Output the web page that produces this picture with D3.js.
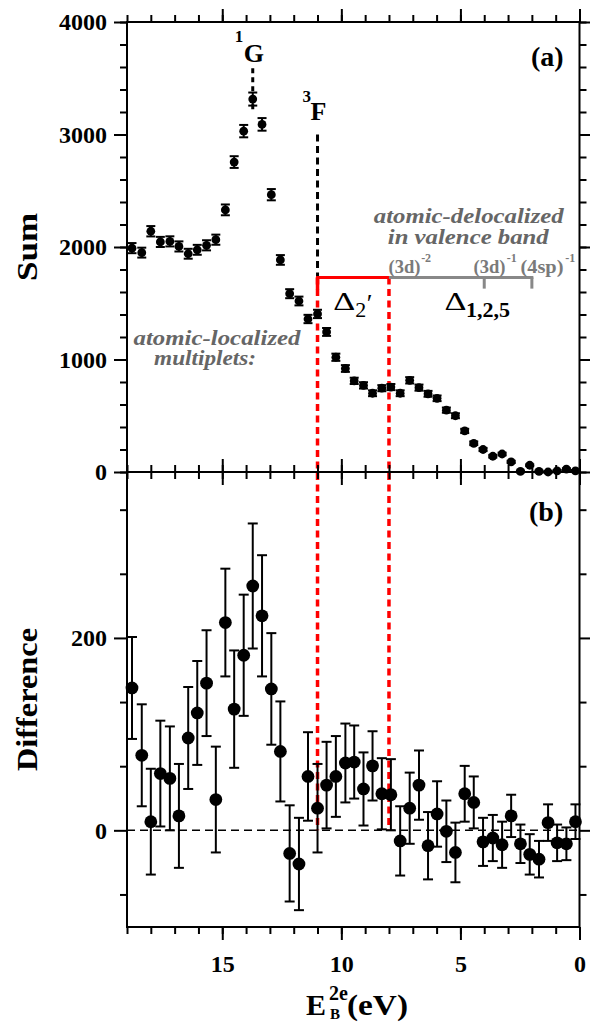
<!DOCTYPE html>
<html>
<head>
<meta charset="utf-8">
<script src="https://cdn.jsdelivr.net/npm/d3@7/dist/d3.min.js"></script>
<style>
  html, body { margin: 0; padding: 0; background: #fff; }
  svg { display: block; }
</style>
</head>
<body>
<svg id="chart" width="590" height="1025"></svg>
<script>
// ---------------- data ----------------
const energy = [18.79, 18.38, 18.0, 17.6, 17.2, 16.82, 16.43, 16.05, 15.66, 15.27, 14.87, 14.5, 14.1, 13.72, 13.33, 12.94, 12.56, 12.17, 11.78, 11.4, 11.0, 10.62, 10.23, 9.83, 9.46, 9.07, 8.69, 8.3, 7.92, 7.53, 7.13, 6.74, 6.36, 5.98, 5.59, 5.21, 4.82, 4.44, 4.05, 3.64, 3.25, 2.87, 2.48, 2.09, 1.7, 1.32, 0.94, 0.55, 0.17];
const sumValues = [1990, 1950, 2140, 2045, 2050, 2005, 1940, 1975, 2015, 2065, 2330, 2755, 3030, 3315, 3090, 2465, 1885, 1585, 1520, 1360, 1405, 1245, 1020, 920, 810, 770, 700, 745, 755, 700, 815, 750, 695, 655, 550, 500, 365, 255, 200, 140, 160, 90, 5, 60, 5, 0, 10, 25, 10];
const sumErrors = [45, 44, 46, 45, 45, 45, 44, 44, 45, 45, 48, 52, 55, 58, 56, 50, 43, 40, 39, 37, 37, 35, 32, 30, 28, 28, 26, 27, 27, 26, 28, 27, 26, 25, 23, 22, 19, 16, 14, 12, 12, 10, 8, 8, 8, 8, 8, 8, 8];
const diffValues = [148, 78, 9, 59, 54, 15, 96, 122, 153, 32, 216, 126, 182, 254, 223, 147, 82, -24, -35, 56, 23, 47, 56, 70, 71, 43, 67, 38, 37, -11, 23, 47, -16, 17, -1, -23, 38, 29, -12, -8, -15, 15, -14, -25, -30, 8, -13, -14, 9];
const diffErrors = [53, 53, 55, 55, 54, 54, 53, 54, 55, 55, 56, 61, 63, 65, 63, 58, 52, 50, 48, 46, 46, 45, 42, 41, 38, 38, 36, 37, 37, 36, 37, 36, 35, 34, 32, 31, 29, 27, 25, 24, 24, 22, 20, 21, 19, 19, 19, 17, 18];

const xMajorTicks = [0, 5, 10, 15];
const xMinorTicks = d3.range(0, 20, 1);
const sumTicks = [0, 1000, 2000, 3000, 4000];
const sumMinorTicks = d3.range(0, 4001, 200);
const diffTicks = [0, 200];
const diffMinorTicks = [-66.667, 66.667, 133.333, 266.667, 333.333];

// Marker levels for annotations
const peak1G = 13.72, peak3F = 11.0, edgeVB = 8.0;
const bracketSum = 1730, bracketTickEnds = [4, 2];

// ---------------- layout ----------------
const svg = d3.select("#chart");
const L = 127, R = 579.5, T = 22, M = 472, B = 927;
const x = d3.scaleLinear().domain([19, 0]).range([L, R]);
const yS = d3.scaleLinear().domain([0, 4000]).range([M, T]);
const yD = d3.scaleLinear().domain([-100.5, 372.5]).range([B, M]);

const FONT = '"Liberation Serif", "Times New Roman", Times, serif';

function styleAxis(g) {
  g.select(".domain").remove();
  g.selectAll(".tick line").attr("stroke", "#000").attr("stroke-width", 2);
  g.selectAll("text").attr("font-family", FONT).attr("font-weight", "bold")
    .attr("font-size", 24).attr("fill", "#000");
}

function panelAxes(y, yTop, yBottom, majors, minors, showXLabels) {
  const g = svg.append("g");
  g.append("g").attr("transform", `translate(${L},0)`)
    .call(d3.axisLeft(y).tickValues(minors).tickSize(7).tickSizeOuter(0).tickFormat("")).call(styleAxis);
  g.append("g").attr("transform", `translate(${L},0)`)
    .call(d3.axisLeft(y).tickValues(majors).tickSize(13).tickSizeOuter(0).tickPadding(7).tickFormat(d3.format("d"))).call(styleAxis);
  g.append("g").attr("transform", `translate(${R},0)`)
    .call(d3.axisRight(y).tickValues(minors).tickSize(7).tickSizeOuter(0).tickFormat("")).call(styleAxis);
  g.append("g").attr("transform", `translate(${R},0)`)
    .call(d3.axisRight(y).tickValues(majors).tickSize(13).tickSizeOuter(0).tickFormat("")).call(styleAxis);
  g.append("g").attr("transform", `translate(0,${yTop})`)
    .call(d3.axisTop(x).tickValues(xMinorTicks).tickSize(7).tickSizeOuter(0).tickFormat("")).call(styleAxis);
  g.append("g").attr("transform", `translate(0,${yTop})`)
    .call(d3.axisTop(x).tickValues(xMajorTicks).tickSize(13).tickSizeOuter(0).tickFormat("")).call(styleAxis);
  g.append("g").attr("transform", `translate(0,${yBottom})`)
    .call(d3.axisBottom(x).tickValues(xMinorTicks).tickSize(7).tickSizeOuter(0).tickFormat("")).call(styleAxis);
  const bx = g.append("g").attr("transform", `translate(0,${yBottom})`)
    .call(d3.axisBottom(x).tickValues(xMajorTicks).tickSize(13).tickSizeOuter(0)
      .tickFormat(showXLabels ? d3.format("d") : "")).call(styleAxis);
  bx.selectAll("text").attr("y", 45).attr("dy", 0);
  g.append("rect").attr("x", L).attr("y", yTop).attr("width", R - L).attr("height", yBottom - yTop)
    .attr("fill", "none").attr("stroke", "#000").attr("stroke-width", 2);
}

const sumData = energy.map((e, i) => ({ e, v: sumValues[i], err: sumErrors[i] }));
const diffData = energy.map((e, i) => ({ e, v: diffValues[i], err: diffErrors[i] }));

function drawErrorDots(data, y, r, cap) {
  const g = svg.append("g");
  const eb = g.selectAll("g.eb").data(data).join("g");
  eb.append("line").attr("x1", d => x(d.e)).attr("x2", d => x(d.e))
    .attr("y1", d => y(d.v - d.err)).attr("y2", d => y(d.v + d.err))
    .attr("stroke", "#000").attr("stroke-width", 2);
  eb.append("line").attr("x1", d => x(d.e) - cap).attr("x2", d => x(d.e) + cap)
    .attr("y1", d => y(d.v + d.err)).attr("y2", d => y(d.v + d.err))
    .attr("stroke", "#000").attr("stroke-width", 2);
  eb.append("line").attr("x1", d => x(d.e) - cap).attr("x2", d => x(d.e) + cap)
    .attr("y1", d => y(d.v - d.err)).attr("y2", d => y(d.v - d.err))
    .attr("stroke", "#000").attr("stroke-width", 2);
  g.selectAll("circle").data(data).join("circle")
    .attr("cx", d => x(d.e)).attr("cy", d => y(d.v)).attr("r", r).attr("fill", "#000");
}

// zero dashed line (b)
svg.append("line").attr("x1", x(19)).attr("x2", x(0)).attr("y1", yD(0)).attr("y2", yD(0))
  .attr("stroke", "#000").attr("stroke-width", 1.5).attr("stroke-dasharray", "8,5");

// 1G and 3F markers
svg.append("line").attr("x1", x(peak1G)).attr("x2", x(peak1G)).attr("y1", yS(3590)).attr("y2", yS(3210))
  .attr("stroke", "#000").attr("stroke-width", 3).attr("stroke-dasharray", "5,4");
svg.append("line").attr("x1", x(peak3F)).attr("x2", x(peak3F)).attr("y1", yS(3000)).attr("y2", yS(bracketSum))
  .attr("stroke", "#000").attr("stroke-width", 3).attr("stroke-dasharray", "7,4.5");

// red dashed verticals across panels
[peak3F, edgeVB].forEach(e => {
  svg.append("line").attr("x1", x(e)).attr("x2", x(e)).attr("y1", yS(bracketSum)).attr("y2", yD(0))
    .attr("stroke", "#ff0000").attr("stroke-width", 3.5).attr("stroke-dasharray", "7,4.5");
});
svg.append("line").attr("x1", x(peak3F) - 1.5).attr("x2", x(edgeVB)).attr("y1", yS(bracketSum)).attr("y2", yS(bracketSum))
  .attr("stroke", "#ff0000").attr("stroke-width", 3);
svg.append("line").attr("x1", x(peak3F)).attr("x2", x(peak3F)).attr("y1", yS(bracketSum)).attr("y2", yS(bracketSum) + 12)
  .attr("stroke", "#ff0000").attr("stroke-width", 3.5);
svg.append("line").attr("x1", x(edgeVB)).attr("x2", x(2) + 1.5).attr("y1", yS(bracketSum)).attr("y2", yS(bracketSum))
  .attr("stroke", "#888").attr("stroke-width", 3);
bracketTickEnds.forEach(e => {
  svg.append("line").attr("x1", x(e)).attr("x2", x(e)).attr("y1", yS(bracketSum)).attr("y2", yS(1630))
    .attr("stroke", "#888").attr("stroke-width", 3);
});

drawErrorDots(sumData, yS, 4.4, 4.5);
drawErrorDots(diffData, yD, 6.4, 5);

panelAxes(yS, T, M, sumTicks, sumMinorTicks, false);
panelAxes(yD, M, B, diffTicks, diffMinorTicks, true);

// ---------------- text ----------------
function txt(xp, yp, s, opts = {}) {
  const t = svg.append("text").attr("x", xp).attr("y", yp).text(s)
    .attr("font-family", FONT)
    .attr("font-size", opts.size || 24)
    .attr("font-weight", opts.weight || "bold")
    .attr("font-style", opts.style || "normal")
    .attr("fill", opts.fill || "#000")
    .attr("text-anchor", opts.anchor || "start");
  if (opts.len) t.attr("textLength", opts.len).attr("lengthAdjust", "spacingAndGlyphs");
  return t;
}

// Axis titles
txt(0, 0, "Sum", { size: 30, anchor: "middle", len: 68 }).attr("transform", `translate(37,${(T + M) / 2}) rotate(-90)`);
txt(0, 0, "Difference", { size: 30, anchor: "middle", len: 143 }).attr("transform", `translate(37,${(M + B) / 2}) rotate(-90)`);

// x title
txt(306, 1015, "E", { size: 30 });
txt(329, 1000, "2e", { size: 20 });
txt(330, 1019, "B", { size: 15 });
txt(347, 1015, "(eV)", { size: 30, len: 61 });

// panel labels
txt(x(1.35), yS(3610), "(a)", { size: 28, anchor: "middle" });
txt(x(1.4), yD(322), "(b)", { size: 28, anchor: "middle" });

// 1G, 3F
txt(x(14.48), yS(3822), "1", { size: 17 });
txt(x(14.1), yS(3647), "G", { size: 26 });
txt(x(11.63), yS(3289), "3", { size: 17 });
txt(x(11.3), yS(3129), "F", { size: 26 });

// gray italic labels
const gray = "#666";
txt(x(4.65), yS(2210), "atomic-delocalized", { size: 20, style: "italic", fill: gray, anchor: "middle", len: 190 });
txt(x(4.67), yS(2025), "in valence band", { size: 20, style: "italic", fill: gray, anchor: "middle", len: 161 });
txt(x(15.22), yS(1128), "atomic-localized", { size: 20, style: "italic", fill: gray, anchor: "middle", len: 167 });
txt(x(15.72), yS(950), "multiplets:", { size: 20, style: "italic", fill: gray, anchor: "middle", len: 102 });

// orbital labels
const g2 = "#7a7a7a";
txt(x(8.02), yS(1770), "(3d)", { size: 19, fill: g2, len: 32 });
txt(x(6.65), yS(1870), "-2", { size: 12, fill: g2 });
txt(x(4.45), yS(1770), "(3d)", { size: 19, fill: g2, len: 32 });
txt(x(3.05), yS(1870), "-1", { size: 12, fill: g2 });
txt(x(2.48), yS(1770), "(4sp)", { size: 19, fill: g2, len: 43 });
txt(x(0.6), yS(1870), "-1", { size: 12, fill: g2 });

// Deltas
txt(x(10.34), yS(1440), "Δ", { size: 26, weight: "normal", len: 22 });
txt(x(9.42), yS(1375), "2", { size: 22, weight: "normal" });
txt(x(8.93), yS(1420), "′", { size: 26, weight: "normal" });
txt(x(5.67), yS(1440), "Δ", { size: 26, weight: "normal", len: 22 });
txt(x(4.77), yS(1375), "1,2,5", { size: 22 });
</script>
</body>
</html>
